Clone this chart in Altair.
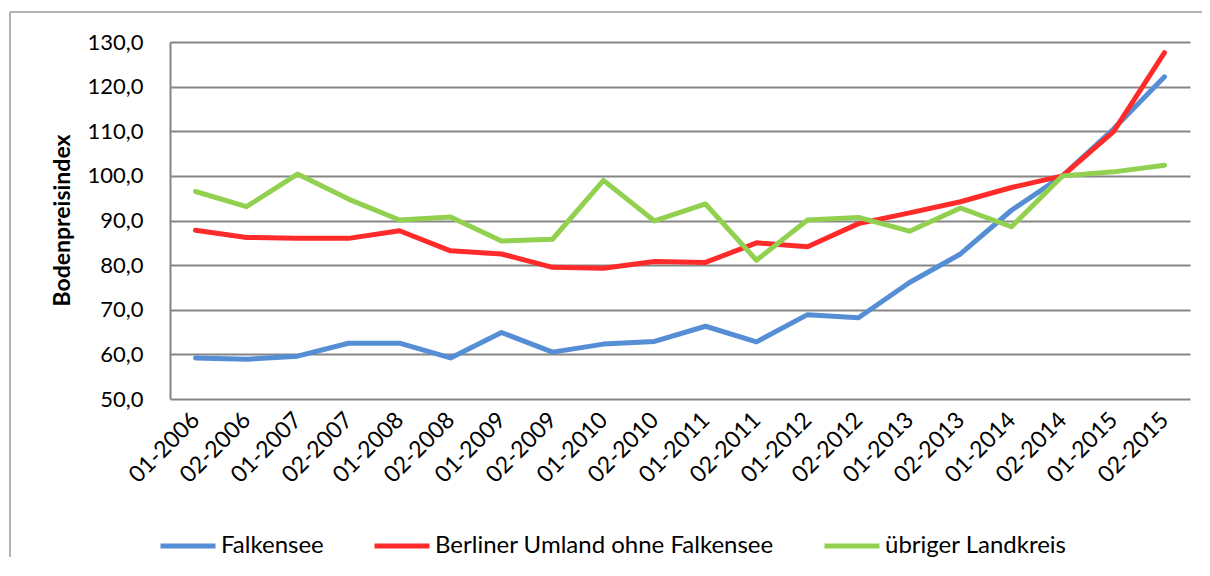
import altair as alt
import pandas as pd

categories = ["01-2006", "02-2006", "01-2007", "02-2007", "01-2008", "02-2008",
              "01-2009", "02-2009", "01-2010", "02-2010", "01-2011", "02-2011",
              "01-2012", "02-2012", "01-2013", "02-2013", "01-2014", "02-2014",
              "01-2015", "02-2015"]
series_names = ["Falkensee", "Berliner Umland ohne Falkensee", "übriger Landkreis"]
falkensee = [59.2, 58.9, 59.6, 62.5, 62.5, 59.2, 64.9, 60.5, 62.3, 62.9,
             66.3, 62.8, 68.9, 68.2, 76.1, 82.5, 92.3, 100.0, 110.5, 122.2]
berliner_umland = [87.8, 86.2, 86.0, 86.0, 87.7, 83.2, 82.5, 79.5, 79.3, 80.8,
                   80.6, 85.0, 84.1, 89.3, 91.7, 94.2, 97.4, 100.0, 109.9, 127.6]
uebriger_landkreis = [96.5, 93.1, 100.4, 94.8, 90.1, 90.8, 85.4, 85.8, 99.0, 89.9,
                      93.7, 81.1, 90.1, 90.7, 87.6, 92.8, 88.6, 100.0, 100.9, 102.4]
y_ticks = [50, 60, 70, 80, 90, 100, 110, 120, 130]
colors = ["#558ED5", "#FF2A2A", "#92D050"]

rows = []
for name, vals in zip(series_names, [falkensee, berliner_umland, uebriger_landkreis]):
    for c, v in zip(categories, vals):
        rows.append({"Periode": c, "Wert": v, "Serie": name})
df = pd.DataFrame(rows)

FONT = "Lato"

dummy = pd.DataFrame({"a": [0]})
frame_top = alt.Chart(dummy).mark_rule(
    stroke="#9A9A9A", strokeWidth=1.5, clip=False
).encode(x=alt.value(-160), x2=alt.value(1032), y=alt.value(-30))
frame_left = alt.Chart(dummy).mark_rule(
    stroke="#9A9A9A", strokeWidth=1.5, clip=False
).encode(x=alt.value(-160), y=alt.value(-30), y2=alt.value(515))

lines = alt.Chart(df).mark_line(
    strokeWidth=5, strokeCap="round", strokeJoin="round", clip=False
).encode(
    x=alt.X("Periode:N", sort=categories,
            scale=alt.Scale(padding=0.5),
            axis=alt.Axis(title=None, labelAngle=-45, labelAlign="right",
                          labelBaseline="middle", labelPadding=17, ticks=False,
                          domain=False, grid=False, labelFontSize=23,
                          labelFont=FONT, labelColor="#000000")),
    y=alt.Y("Wert:Q",
            scale=alt.Scale(domain=[50, 130], nice=False, zero=False),
            axis=alt.Axis(title="Bodenpreisindex", values=y_ticks,
                          labelExpr="replace(format(datum.value, '.1f'), '.', ',')",
                          labelFontSize=22, labelFont=FONT, labelColor="#000000",
                          labelPadding=27, ticks=False,
                          domain=True, domainColor="#868686", domainWidth=2,
                          grid=True, gridColor="#868686", gridWidth=2,
                          titleFont=FONT, titleFontSize=23, titleFontWeight="bold",
                          titleColor="#000000", titleX=-108, titleY=178,
                          titleAlign="center", titleBaseline="middle", titleAngle=-90)),
    color=alt.Color("Serie:N",
                    scale=alt.Scale(domain=series_names, range=colors),
                    sort=series_names,
                    legend=alt.Legend(title=None, orient="none", direction="horizontal",
                                      legendX=-12, legendY=474,
                                      symbolType="stroke", symbolStrokeWidth=5,
                                      symbolSize=3025, labelOffset=3,
                                      columnPadding=40, labelFontSize=24,
                                      labelFont=FONT, labelColor="#000000",
                                      labelLimit=500))
)

chart = alt.layer(frame_top, frame_left, lines).properties(
    width=1020, height=357,
    autosize=alt.AutoSizeParams(type="none"),
    padding={"left": 162, "top": 34, "right": 12, "bottom": 158},
    background="#FFFFFF"
).configure_view(stroke=None)

chart.save("out.html", embed_options={"renderer": "svg", "actions": False})
